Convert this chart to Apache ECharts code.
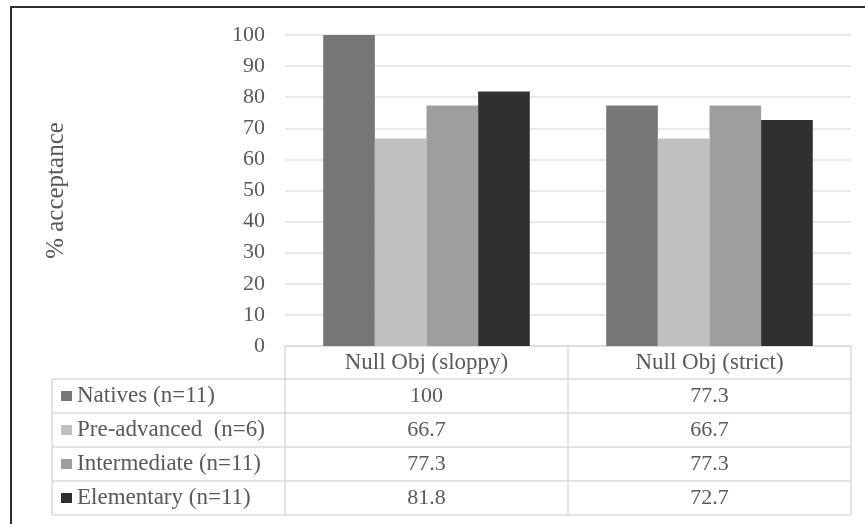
<!DOCTYPE html>
<html><head><meta charset="utf-8">
<script src="https://cdn.jsdelivr.net/npm/echarts@6/dist/echarts.min.js"></script>
<style>html,body{margin:0;padding:0;background:#fff}#c{width:865px;height:524px}</style>
</head><body><div id="c"></div>
<script>
const categories = ['Null Obj (sloppy)', 'Null Obj (strict)'];
const seriesNames = ['Natives (n=11)', 'Pre-advanced\u00a0 (n=6)', 'Intermediate (n=11)', 'Elementary (n=11)'];
const natives = [100, 77.3];
const preAdvanced = [66.7, 66.7];
const intermediate = [77.3, 77.3];
const elementary = [81.8, 72.7];
const yMin = 0, yMax = 100, yStep = 10;
const colors = ['#767676', '#c0c0c0', '#9e9e9e', '#303030'];

const allSeries = [natives, preAdvanced, intermediate, elementary];
const FONT = 'Liberation Serif';
const FS = 22;
const FS_TXT = 23;
const TXT = '#595959';
const LINE = '#dadada';

const chart = echarts.init(document.getElementById('c'), null, {renderer: 'canvas'});
chart.setOption({
  animation: false,
  backgroundColor: '#fff',
  textStyle: {fontFamily: FONT},
  grid: {left: 285, right: 14, top: 35, bottom: 178, containLabel: false},
  xAxis: {
    type: 'category', data: categories,
    axisLine: {show: true, lineStyle: {color: LINE, width: 1.5}},
    axisTick: {show: false},
    axisLabel: {color: TXT, fontFamily: FONT, fontSize: FS_TXT, margin: 17, verticalAlign: 'middle'}
  },
  yAxis: {
    type: 'value', min: yMin, max: yMax, interval: yStep,
    name: '% acceptance', nameLocation: 'middle', nameGap: 216, nameRotate: 90,
    nameTextStyle: {color: TXT, fontFamily: FONT, fontSize: 25},
    axisLine: {show: false}, axisTick: {show: false},
    axisLabel: {color: TXT, fontFamily: FONT, fontSize: FS, margin: 20},
    splitLine: {lineStyle: {color: '#e2e2e2', width: 1.5}}
  },
  series: allSeries.map((d, i) => ({
    type: 'bar', name: seriesNames[i], data: d,
    barGap: '0%', barCategoryGap: '27%',
    itemStyle: {color: colors[i]}
  }))
});

// Data table built from the chart's own scales
const c0 = chart.convertToPixel({xAxisIndex: 0}, categories[0]);
const c1 = chart.convertToPixel({xAxisIndex: 0}, categories[1]);
const bw = c1 - c0;
const xEdges = [c0 - bw / 2, c0 + bw / 2, c1 + bw / 2];
const y0 = chart.convertToPixel({yAxisIndex: 0}, 0);
const headerH = 33, rowH = 34;
const tableLeft = 52;
const rowTops = [0, 1, 2, 3].map(i => y0 + headerH + i * rowH);
const tableBottom = y0 + headerH + 4 * rowH;

const g = [];
function line(x1, y1, x2, y2) {
  g.push({type: 'line', shape: {x1, y1, x2, y2}, style: {stroke: LINE, lineWidth: 1.5}, silent: true});
}
[...rowTops, tableBottom].forEach(y => line(tableLeft, y, xEdges[2], y));
line(tableLeft, rowTops[0], tableLeft, tableBottom);
xEdges.forEach(x => line(x, y0, x, tableBottom));

seriesNames.forEach((name, i) => {
  const cy = rowTops[i] + rowH / 2;
  g.push({type: 'rect', shape: {x: 61, y: cy - 5, width: 11, height: 10}, style: {fill: colors[i]}, silent: true});
  g.push({type: 'text', style: {text: name, x: 77, y: cy, fill: TXT, font: FS_TXT + 'px "' + FONT + '"', textAlign: 'left', textVerticalAlign: 'middle'}, silent: true});
  allSeries[i].forEach((v, j) => {
    const cx = j === 0 ? c0 : c1;
    g.push({type: 'text', style: {text: String(v), x: cx, y: cy, fill: TXT, font: FS + 'px "' + FONT + '"', textAlign: 'center', textVerticalAlign: 'middle'}, silent: true});
  });
});
g.push({type: 'rect', shape: {x: 11, y: 7, width: 900, height: 600}, style: {fill: 'none', stroke: '#2e2e2e', lineWidth: 2}, silent: true});

chart.setOption({graphic: g});
</script>
</body></html>
